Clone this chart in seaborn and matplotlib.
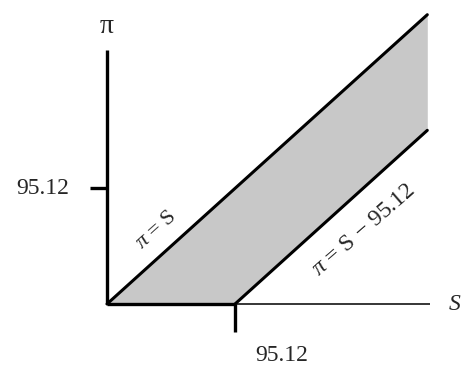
import numpy as np
import pandas as pd
import matplotlib
matplotlib.use("Agg")
import matplotlib.pyplot as plt
import seaborn as sns

# values
tick_value = 95.12          # marked on both axes
s_end = 238.0               # where the two lines stop
s_axis_end = 240.0          # end of the S axis
pi_axis_end = 209.0         # end of the pi axis

s_vals = [0.0, tick_value, s_end]
upper_pi = [0.0, tick_value, s_end]                          # pi = S
lower_pi = [0.0, 0.0, s_end - tick_value]                    # pi = max(0, S - 95.12)

sns.set_style("white")
plt.rcParams['font.family'] = ['Liberation Serif', 'DejaVu Serif']
plt.rcParams['mathtext.fontset'] = 'custom'
plt.rcParams['mathtext.rm'] = 'Liberation Serif'
plt.rcParams['mathtext.it'] = 'Liberation Serif:italic'

fig = plt.figure(figsize=(4.67, 3.66), dpi=100)
ax = fig.add_axes([0, 0, 1, 1])
ax.set_xlim(-79.5, 267.5)
ax.set_ylim(-51.0, 250.1)
ax.axis('off')

# shaded band between the two lines
ax.fill_between(s_vals, lower_pi, upper_pi, color='#c8c8c8', linewidth=0)

lines = pd.DataFrame({
    'S': [0.0, s_end, tick_value, s_end],
    'pi': [0.0, s_end, 0.0, s_end - tick_value],
    'line': ['upper', 'upper', 'lower', 'lower'],
})
sns.lineplot(data=lines, x='S', y='pi', units='line', estimator=None,
             color='black', linewidth=2.2, ax=ax, legend=False)

# axes
ax.plot([0, 0], [0, pi_axis_end], color='black', lw=2.4, solid_capstyle='butt')
ax.plot([0, tick_value], [0, 0], color='black', lw=2.4, solid_capstyle='butt')
ax.plot([tick_value, s_axis_end], [0, 0], color='black', lw=1.1, solid_capstyle='butt')

# ticks
ax.plot([-12.6, 0], [tick_value, tick_value], color='black', lw=2.4, solid_capstyle='butt')
ax.plot([tick_value, tick_value], [0, -23], color='black', lw=2.4, solid_capstyle='butt')

ax.text(-47.6, tick_value, f'{tick_value:.2f}', fontsize=17, ha='center', va='center')
ax.text(130, -42, f'{tick_value:.2f}', fontsize=17, ha='center', va='center')

ax.text(0, 228, 'π', fontsize=20, ha='center', va='center')
ax.text(258.6, 0, 'S', fontsize=17, style='italic', ha='center', va='center')

ax.text(36.4, 61, r'$\pi$ = S', fontsize=16, rotation=42,
        ha='center', va='center', rotation_mode='anchor')
ax.text(191, 61, r'$\pi$ = S − 95.12', fontsize=17, rotation=41,
        ha='center', va='center', rotation_mode='anchor')

fig.savefig('out.png', dpi=100, facecolor='white')
